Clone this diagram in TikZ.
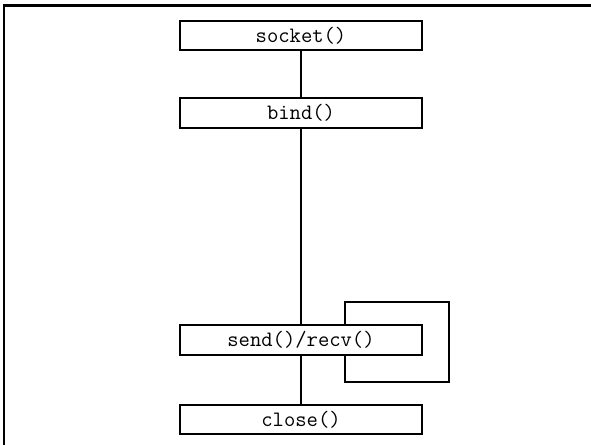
\documentclass[tikz,border=0pt]{standalone}
\begin{document}
\begin{tikzpicture}[x=0.75pt,y=-0.75pt,
  fn/.style={draw,line width=1.4pt,rectangle,minimum width=181.5pt,minimum height=22pt,inner sep=0pt,font=\ttfamily\fontsize{16.5}{18}\selectfont},
  conn/.style={line width=1.3pt}]
\useasboundingbox (0,0) rectangle (591,445);
\draw[line width=1.6pt] (4,446) -- (4,5.5) -- (592,5.5);
\node[fn] (socket) at (301,35.5) {socket()};
\node[fn] (bind) at (301,113) {bind()};
\node[fn] (send) at (301,340) {send()/recv()};
\node[fn] (close) at (301,419.5) {close()};
\draw[conn] (socket) -- (bind);
\draw[conn] (bind) -- (send);
\draw[conn] (send) -- (close);
\coordinate (la) at (345,302);
\coordinate (lb) at (449,382);
\draw[conn] (send.north -| la) -- (la) -| (lb) -| (send.south -| la);
\end{tikzpicture}
\end{document}
